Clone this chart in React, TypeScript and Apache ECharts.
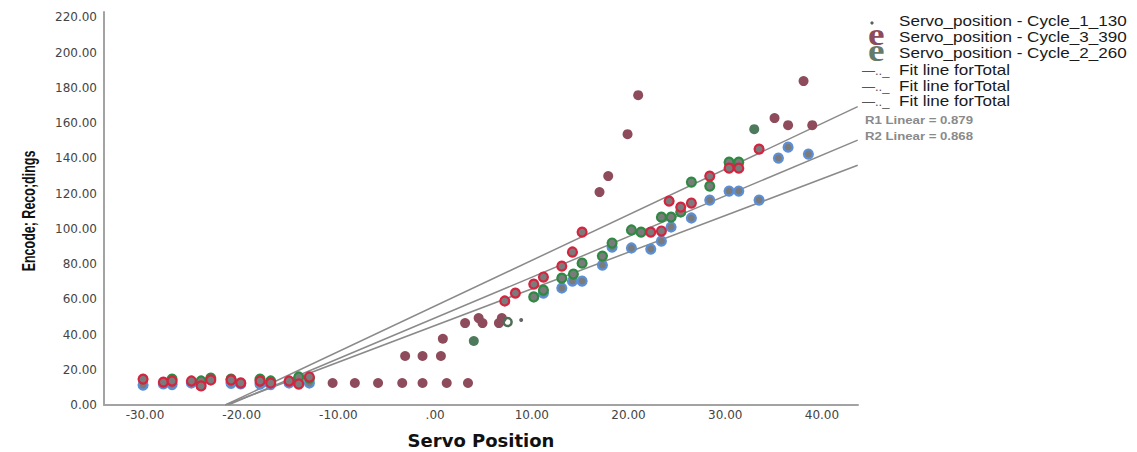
import React, { useEffect, useRef } from "react";
import * as echarts from "echarts";

// ---- data (x = Servo Position, y = Encoder Recordings) ----
const xTicks = [-30, -20, -10, 0, 10, 20, 30, 40];
const yTicks = [0, 20, 40, 60, 80, 100, 120, 140, 160, 180, 200, 220];

const cycle1Blue: [number, number][] = [
  [-30.2, 11.3], [-28.1, 12.0], [-27.2, 11.6], [-25.2, 12.5], [-24.2, 12.5], [-21.1, 12.3],
  [-20.1, 12.0], [-18.1, 11.9], [-17.0, 11.6], [-15.1, 12.5], [-14.1, 13.0], [-13.0, 12.5],
  [11.2, 63.5], [13.1, 66.4], [14.2, 70.3], [15.2, 70.3], [17.3, 79.4], [18.3, 89.6],
  [20.3, 89.1], [22.3, 88.5], [23.4, 93.0], [24.4, 101.0], [26.5, 106.1], [28.4, 116.3],
  [30.4, 121.4], [31.4, 121.4], [33.5, 116.3], [35.5, 140.1], [36.5, 146.3], [38.6, 142.4],
];

const cycle2Green: [number, number][] = [
  [-27.2, 14.7], [-24.2, 13.6], [-23.2, 15.3], [-21.1, 14.7], [-18.1, 14.7], [-17.0, 13.6],
  [-14.1, 15.9], [-13.0, 15.3],
  [10.2, 61.3], [11.2, 65.2], [13.1, 72.0], [14.3, 74.3], [15.2, 80.5], [17.3, 84.5],
  [18.3, 91.9], [20.3, 99.3], [21.3, 98.1], [23.4, 106.6], [24.4, 106.6], [25.4, 109.5],
  [26.5, 126.5], [28.4, 124.2], [30.4, 137.8], [31.4, 137.8],
];

const cycle3Red: [number, number][] = [
  [-30.2, 14.7], [-28.1, 13.0], [-27.2, 13.6], [-25.2, 13.6], [-24.2, 10.8], [-23.2, 14.2],
  [-21.1, 14.2], [-20.1, 12.5], [-18.1, 13.6], [-17.0, 12.5], [-15.1, 13.6], [-14.1, 11.9],
  [-13.0, 15.9],
  [7.2, 59.0], [8.3, 63.5], [10.2, 68.6], [11.2, 72.6], [13.1, 78.8], [14.2, 86.8],
  [15.2, 98.1], [22.3, 98.1], [23.4, 98.7], [24.2, 115.7], [25.4, 112.3], [26.5, 114.6],
  [28.4, 129.9], [30.4, 134.4], [31.4, 134.4], [33.5, 145.2],
];

const solidMaroon: [number, number][] = [
  [-10.6, 12.5], [-8.3, 12.5], [-5.9, 12.5], [-3.4, 12.5], [-1.3, 12.5], [1.2, 12.5], [3.4, 12.5],
  [-3.1, 27.8], [-1.3, 27.8], [0.6, 27.8], [0.8, 37.6], [3.1, 46.5], [4.5, 49.3], [4.9, 46.5],
  [6.6, 46.5], [6.9, 49.3],
  [17.0, 120.8], [17.9, 129.9], [19.9, 153.7], [21.0, 175.8], [35.1, 162.8], [36.5, 158.8],
  [39.0, 158.8], [38.1, 183.8],
];

const solidGreen: [number, number][] = [[4.0, 36.3], [33.0, 156.5]];
const ringGreen: [number, number][] = [[7.5, 47.1]];
const smallDot: [number, number][] = [[8.9, 48.2]];

const fitTop: [number, number][] = [[-21.7, 0], [43.7, 169.3]];
const fitMid: [number, number][] = [[-21.4, 0], [43.7, 150.3]];
const fitBot: [number, number][] = [[-21.7, 0], [43.7, 136.0]];

const legendSeries = [
  "Servo_position - Cycle_1_130",
  "Servo_position - Cycle_3_390",
  "Servo_position - Cycle_2_260",
];
const legendFit = ["Fit line forTotal", "Fit line forTotal", "Fit line forTotal"];
const rSquared = ["R1 Linear = 0.879", "R2 Linear = 0.868"];

const GRAY_FILL = "#7b7b7b";

function ringSeries(name: string, data: [number, number][], border: string, z: number) {
  return {
    name,
    type: "scatter",
    data,
    symbol: "circle",
    symbolSize: 9,
    z,
    itemStyle: { color: GRAY_FILL, borderColor: border, borderWidth: 2.2, opacity: 1 },
    emphasis: { disabled: true },
  };
}

function fitSeries(data: [number, number][]) {
  return {
    type: "line",
    data,
    symbol: "none",
    z: 1,
    lineStyle: { color: "#8a8a8a", width: 1.5 },
    emphasis: { disabled: true },
  };
}

export default function App() {
  const ref = useRef<HTMLDivElement>(null);

  useEffect(() => {
    if (!ref.current) return;
    const chart = echarts.init(ref.current, null, { renderer: "svg" });

    const textFont = '14px "Liberation Sans"';
    const rowY = [21.5, 37, 53, 70, 86, 101.5];
    const graphic: any[] = [
      // y axis title
      {
        type: "text",
        x: 29,
        y: 211,
        rotation: Math.PI / 2,
        scaleY: 1.45,
        style: {
          text: "Encode; Reco;dings",
          font: 'bold 12.5px "Liberation Sans"',
          fill: "#111",
          align: "center",
          verticalAlign: "middle",
        },
      },
      // legend markers
      { type: "circle", shape: { cx: 872, cy: 23, r: 1.6 }, style: { fill: "#55605a" } },
      {
        type: "text",
        x: 868,
        y: rowY[1] - 3,
        scaleX: 1.2,
        style: { text: "e", font: 'bold 31px "Liberation Serif"', fill: "#8b4b5b", verticalAlign: "middle" },
      },
      {
        type: "text",
        x: 868,
        y: rowY[2] - 3,
        scaleX: 1.2,
        style: { text: "e", font: 'bold 31px "Liberation Serif"', fill: "#667a6a", verticalAlign: "middle" },
      },
    ];
    legendSeries.forEach((t, i) => {
      graphic.push({
        type: "text",
        x: 899,
        y: rowY[i],
        scaleX: 1.22,
        style: { text: t, font: textFont, fill: "#1a1a1a", verticalAlign: "middle" },
      });
    });
    legendFit.forEach((t, i) => {
      graphic.push({
        type: "text",
        x: 862,
        y: rowY[3 + i],
        style: { text: "—.._", font: '13px "Liberation Sans"', fill: "#555", verticalAlign: "middle" },
      });
      graphic.push({
        type: "text",
        x: 899,
        y: rowY[3 + i],
        scaleX: 1.22,
        style: { text: t, font: textFont, fill: "#1a1a1a", verticalAlign: "middle" },
      });
    });
    rSquared.forEach((t, i) => {
      graphic.push({
        type: "text",
        x: 865,
        y: 120.5 + i * 16,
        scaleX: 1.2,
        style: { text: t, font: 'bold 11px "Liberation Sans"', fill: "#8a8a8a", verticalAlign: "middle" },
      });
    });

    chart.setOption({
      animation: false,
      backgroundColor: "#ffffff",
      grid: { left: 104, right: 279, top: 12, bottom: 47, outerBoundsMode: "none", containLabel: false },
      xAxis: {
        type: "value",
        min: -34.24,
        max: 43.73,
        axisLine: { show: true, onZero: false, lineStyle: { color: "#a3a3a3", width: 2 } },
        axisTick: { show: false },
        splitLine: { show: false },
        axisLabel: {
          customValues: xTicks,
          formatter: (v: number) => (v === 0 ? ".00" : v.toFixed(2)),
          margin: 4,
          color: "#444",
          fontFamily: "DejaVu Sans",
          fontSize: 12,
        },
        name: "Servo Position",
        nameLocation: "middle",
        nameGap: 26,
        nameTextStyle: { fontFamily: "DejaVu Sans", fontWeight: "bold", fontSize: 18, color: "#111" },
      },
      yAxis: {
        type: "value",
        min: 0,
        max: 223,
        axisLine: { show: true, onZero: false, lineStyle: { color: "#a3a3a3", width: 2 } },
        axisTick: { show: false },
        splitLine: { show: false },
        axisLabel: {
          customValues: yTicks,
          formatter: (v: number) => v.toFixed(2),
          margin: 7,
          color: "#444",
          fontFamily: "DejaVu Sans",
          fontSize: 12,
        },
      },
      graphic,
      series: [
        fitSeries(fitTop),
        fitSeries(fitMid),
        fitSeries(fitBot),
        ringSeries("Servo_position - Cycle_1_130", cycle1Blue, "#5b8fd6", 2),
        ringSeries("Servo_position - Cycle_2_260", cycle2Green, "#2e8a42", 3),
        ringSeries("Servo_position - Cycle_3_390", cycle3Red, "#d42440", 4),
        {
          type: "scatter",
          data: solidMaroon,
          symbol: "circle",
          symbolSize: 10,
          z: 5,
          itemStyle: { color: "#8e4b5c", opacity: 1 },
          emphasis: { disabled: true },
        },
        {
          type: "scatter",
          data: solidGreen,
          symbol: "circle",
          symbolSize: 10,
          z: 5,
          itemStyle: { color: "#4d7a5a", opacity: 1 },
          emphasis: { disabled: true },
        },
        {
          type: "scatter",
          data: ringGreen,
          symbol: "circle",
          symbolSize: 8,
          z: 5,
          itemStyle: { color: "rgba(0,0,0,0)", borderColor: "#4d6e55", borderWidth: 2.5, opacity: 1 },
          emphasis: { disabled: true },
        },
        {
          type: "scatter",
          data: smallDot,
          symbol: "circle",
          symbolSize: 4,
          z: 5,
          itemStyle: { color: "#666", opacity: 1 },
          emphasis: { disabled: true },
        },
      ],
    });

    return () => chart.dispose();
  }, []);

  return (
    <div
      ref={ref}
      style={{ position: "fixed", left: 0, top: 0, width: 1137, height: 452, background: "#fff" }}
    />
  );
}
